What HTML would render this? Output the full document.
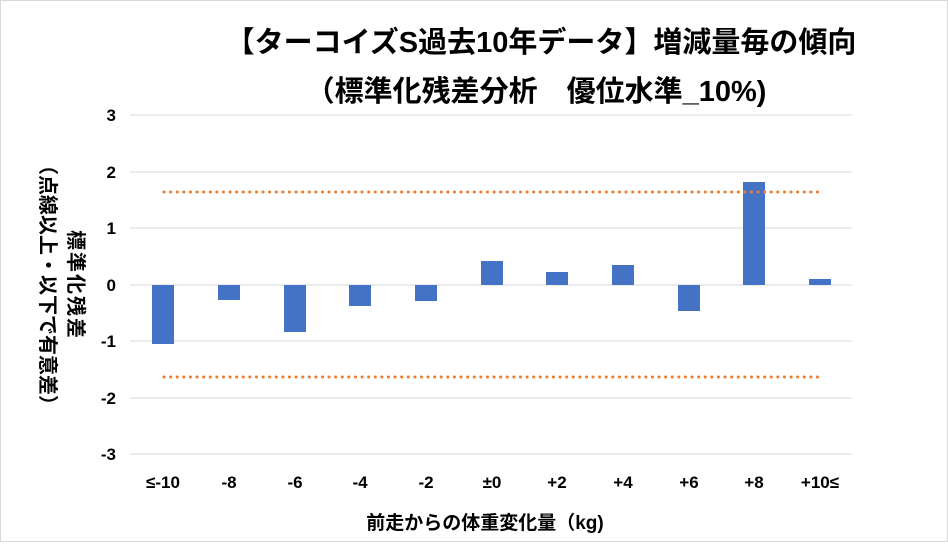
<!DOCTYPE html>
<html><head><meta charset="utf-8"><style>
body{margin:0;background:#fff}
.f{font-family:"Liberation Sans","Noto Sans CJK JP",sans-serif;font-weight:bold}
</style></head><body>
<svg width="948" height="542" xmlns="http://www.w3.org/2000/svg" class="f">
<rect x="0.5" y="0.5" width="947" height="541" fill="#fff" stroke="#d9d9d9"/>
<text x="541" y="52" font-size="29" text-anchor="middle" fill="#000">【ターコイズS過去10年データ】増減量毎の傾向</text>
<text x="536" y="101" font-size="29" text-anchor="middle" fill="#000">（標準化残差分析　優位水準_10%)</text>
<g stroke="#d9d9d9" stroke-width="1">
<line x1="130" x2="852" y1="115" y2="115"/><line x1="130" x2="852" y1="172" y2="172"/>
<line x1="130" x2="852" y1="228" y2="228"/><line x1="130" x2="852" y1="285" y2="285"/>
<line x1="130" x2="852" y1="341" y2="341"/><line x1="130" x2="852" y1="398" y2="398"/>
<line x1="130" x2="852" y1="454" y2="454"/>
</g>
<g font-size="17" text-anchor="end" fill="#000">
<text x="116" y="121">3</text><text x="116" y="178">2</text><text x="116" y="234">1</text>
<text x="116" y="291">0</text><text x="116" y="347">-1</text><text x="116" y="404">-2</text><text x="116" y="460">-3</text>
</g>
<g fill="#4472c4">
<rect x="152" y="285" width="22" height="59"/>
<rect x="218" y="285" width="22" height="15"/>
<rect x="284" y="285" width="22" height="47"/>
<rect x="349" y="285" width="22" height="21"/>
<rect x="415" y="285" width="22" height="16"/>
<rect x="481" y="261" width="22" height="24"/>
<rect x="546" y="272" width="22" height="13"/>
<rect x="612" y="265" width="22" height="20"/>
<rect x="678" y="285" width="22" height="26"/>
<rect x="743" y="182" width="22" height="103"/>
<rect x="809" y="279" width="22" height="6"/>
</g>
<g stroke="#ed7d31" stroke-width="3" stroke-dasharray="0.1 6.5" stroke-linecap="round">
<line x1="164" x2="820" y1="192" y2="192"/><line x1="164" x2="820" y1="377" y2="377"/>
</g>
<g font-size="17" text-anchor="middle" fill="#000">
<text x="163" y="488">≤-10</text><text x="229" y="488">-8</text><text x="295" y="488">-6</text>
<text x="360" y="488">-4</text><text x="426" y="488">-2</text><text x="492" y="488">±0</text>
<text x="557" y="488">+2</text><text x="623" y="488">+4</text><text x="689" y="488">+6</text>
<text x="754" y="488">+8</text><text x="820" y="488">+10≤</text>
</g>
<text x="485" y="529" font-size="19" text-anchor="middle">前走からの体重変化量（kg)</text>
<text transform="translate(69,285) rotate(90)" font-size="20" text-anchor="middle" letter-spacing="2">標準化残差</text>
<text transform="translate(41,285) rotate(90)" font-size="20" text-anchor="middle">（点線以上・以下で有意差）</text>
</svg>
</body></html>
